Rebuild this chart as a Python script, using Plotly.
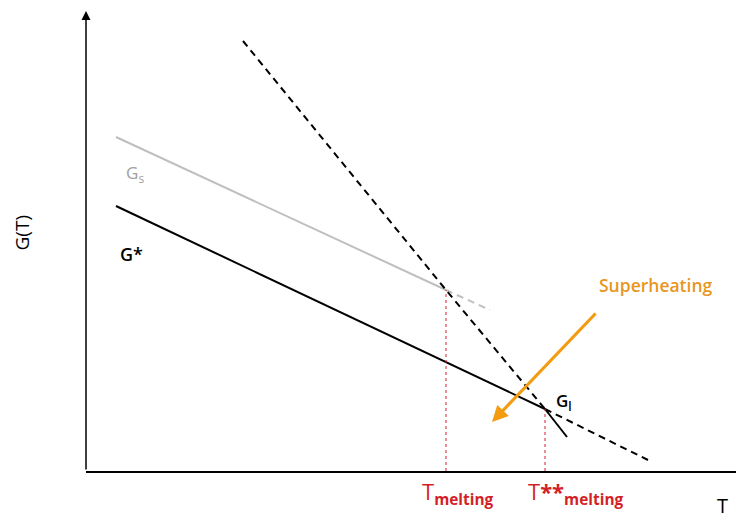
import plotly.graph_objects as go

# Schematic free-energy curves G(T) (arbitrary units)
T_solid = [3.0, 36.0]          # stable solid branch G_s
G_solid = [33.4, 18.1]
T_solid_meta = [36.0, 40.4]    # superheated solid continuation
G_solid_meta = [18.1, 16.1]

T_star = [3.0, 45.9]           # G* branch
G_star = [26.5, 6.2]
T_star_tail = [45.9, 48.1]
G_star_tail = [6.2, 3.4]

T_liquid = [15.7, 36.0, 45.9]  # liquid branch (dashed)
G_liquid = [43.0, 18.1, 6.2]
T_liquid_tail = [45.9, 56.2]
G_liquid_tail = [6.2, 1.1]

T_melting = 36.0
G_at_melting = 18.1
T_melting_ss = 45.9
G_at_melting_ss = 6.2

# Superheating arrow: start and end in (T, G)
arrow_start = (51.1, 15.9)
arrow_end = (40.6, 4.9)

X_RANGE = [0, 65]
Y_RANGE = [0, 47.1]

FONT = "Open Sans"
BLACK = "#000000"
GREY = "#BFBFBF"
RED = "#D41F26"
ORANGE = "#F39C12"
DASH = "7px,5px"

fig = go.Figure()

def add_line(x, y, color, dash="solid", width=2):
    fig.add_trace(go.Scatter(x=x, y=y, mode="lines",
                             line=dict(color=color, width=width, dash=dash),
                             hoverinfo="skip", showlegend=False))

add_line(T_solid, G_solid, GREY)
add_line(T_solid_meta, G_solid_meta, GREY, dash=DASH)
add_line(T_star, G_star, BLACK)
add_line(T_star_tail, G_star_tail, BLACK)
add_line(T_liquid, G_liquid, BLACK, dash=DASH)
add_line(T_liquid_tail, G_liquid_tail, BLACK, dash=DASH)

# dotted drop lines to the temperature axis
add_line([T_melting, T_melting], [0, G_at_melting], RED, dash="dot", width=1)
add_line([T_melting_ss, T_melting_ss], [0, G_at_melting_ss], RED, dash="dot", width=1)

def xp(t):
    """Data T to paper fraction (for labels below the axis)."""
    return (t - X_RANGE[0]) / (X_RANGE[1] - X_RANGE[0])

def label(x, y, text, size, color, ref="data", weight="normal", **kw):
    d = dict(x=x, y=y, text=text, showarrow=False,
             xanchor="center", yanchor="middle",
             font=dict(family=FONT, size=size, color=color, weight=weight))
    if ref == "paper":
        d.update(xref="paper", yref="paper")
    d.update(kw)
    return d

annotations = [
    # vertical axis with arrow tip
    dict(x=0, y=46, ax=0, ay=0, xref="x", yref="y", axref="x", ayref="y",
         text="", showarrow=True, arrowhead=2, arrowsize=1.2, arrowwidth=1.5,
         arrowcolor=BLACK),
    # superheating arrow
    dict(x=arrow_end[0], y=arrow_end[1], ax=arrow_start[0], ay=arrow_start[1],
         xref="x", yref="y", axref="x", ayref="y",
         text="", showarrow=True, arrowhead=2, arrowsize=1.0, arrowwidth=3.2,
         arrowcolor=ORANGE),
    label(57.0, 18.6, "Superheating", 17.5, "#E8961E", weight=600),
    label(4.9, 29.8, "G<sub>s</sub>", 17, "#A0A0A0"),
    label(4.5, 21.7, "G*", 18, BLACK, weight=600),
    label(47.8, 7.0, "G<sub>l</sub>", 17, BLACK, weight=600),
    # labels below the temperature axis
    label(xp(T_melting + 1.2), -0.047, "T<sub><b>melting</b></sub>", 22, RED,
          ref="paper"),
    label(xp(T_melting_ss + 3.1), -0.047, "T<b>**</b><sub><b>melting</b></sub>", 22, RED,
          ref="paper"),
    label(0.979, -0.106, "T", 20, BLACK, ref="paper", yanchor="bottom"),
    label(-0.098, 0.507, "G(T)", 19, BLACK, ref="paper", textangle=-90),
]

fig.update_layout(
    width=736, height=523,
    margin=dict(l=86, r=0, t=0, b=52),
    paper_bgcolor="white", plot_bgcolor="white",
    annotations=annotations,
    xaxis=dict(range=X_RANGE, showgrid=False, zeroline=False, showticklabels=False,
               ticks="", showline=True, linecolor=BLACK, linewidth=1.5),
    yaxis=dict(range=Y_RANGE, showgrid=False, zeroline=False, showticklabels=False,
               ticks="", showline=False),
)

fig.write_html("out.html")
